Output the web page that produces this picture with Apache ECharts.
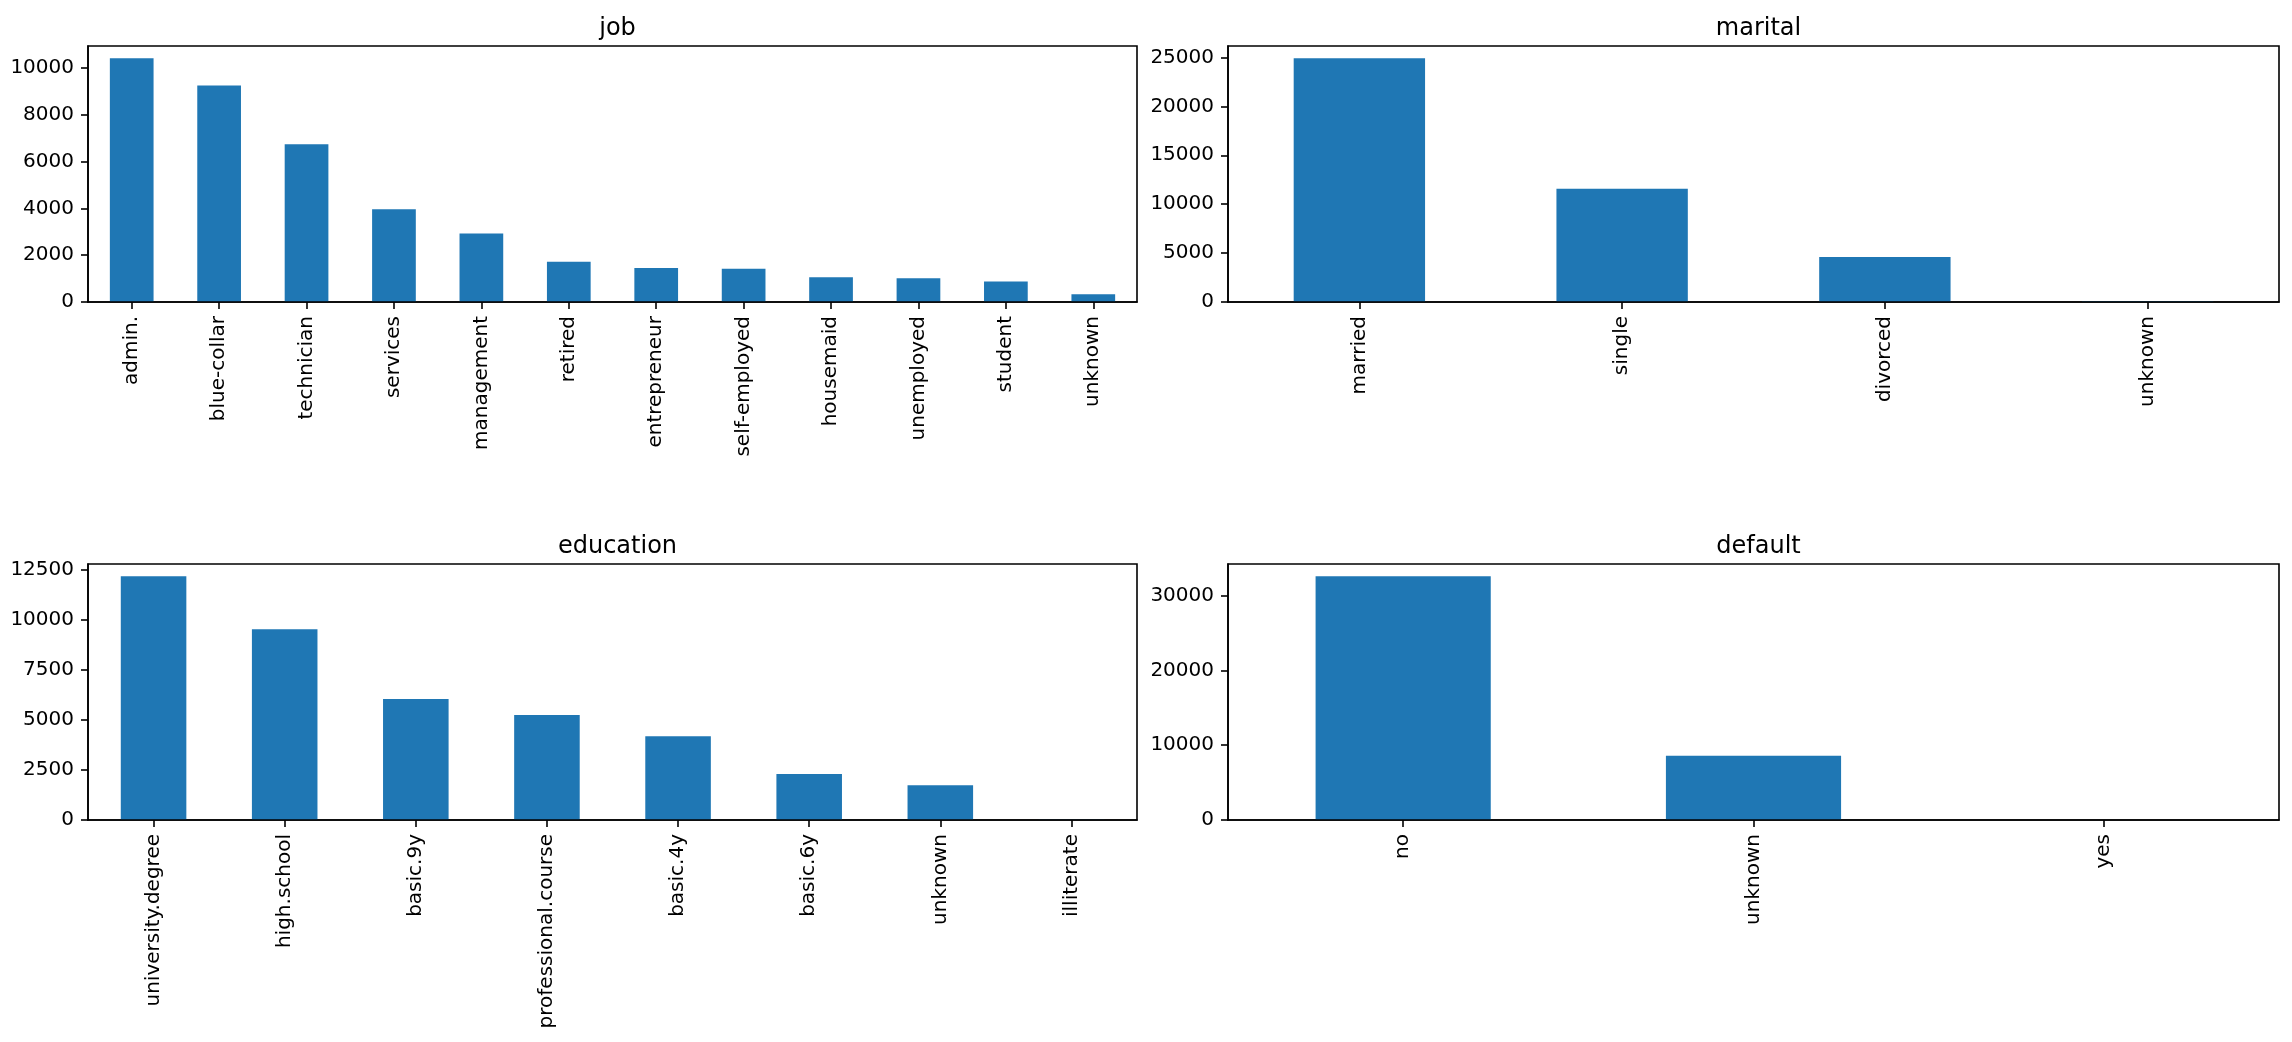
<!DOCTYPE html>
<html>
<head>
<meta charset="utf-8">
<title>bank categorical counts</title>
<script src="https://cdn.jsdelivr.net/npm/echarts@6/dist/echarts.min.js"></script>
<style>
  html, body { margin: 0; padding: 0; background: #fff; }
  #chart { width: 2292px; height: 1042px; }
</style>
</head>
<body>
<div id="chart"></div>
<script>
// categories and counts, one panel each
const jobCats = ['admin.', 'blue-collar', 'technician', 'services', 'management', 'retired',
  'entrepreneur', 'self-employed', 'housemaid', 'unemployed', 'student', 'unknown'];
const jobCounts = [10422, 9254, 6743, 3969, 2924, 1720, 1456, 1421, 1060, 1014, 875, 330];

const maritalCats = ['married', 'single', 'divorced', 'unknown'];
const maritalCounts = [24928, 11568, 4612, 80];

const educationCats = ['university.degree', 'high.school', 'basic.9y', 'professional.course',
  'basic.4y', 'basic.6y', 'unknown', 'illiterate'];
const educationCounts = [12168, 9515, 6045, 5243, 4176, 2292, 1731, 18];

const defaultCats = ['no', 'unknown', 'yes'];
const defaultCounts = [32588, 8597, 3];

// y tick labels
const jobTicks = [0, 2000, 4000, 6000, 8000, 10000];
const maritalTicks = [0, 5000, 10000, 15000, 20000, 25000];
const educationTicks = [0, 2500, 5000, 7500, 10000, 12500];
const defaultTicks = [0, 10000, 20000, 30000];

const FONT = 'DejaVu Sans';
const BAR = '#1f77b4';

const panels = [
  { title: 'job', cats: jobCats, vals: jobCounts, ticks: jobTicks,
    grid: { left: 88, right: 1155, top: 46, height: 256 } },
  { title: 'marital', cats: maritalCats, vals: maritalCounts, ticks: maritalTicks,
    grid: { left: 1228, right: 13, top: 46, height: 256 } },
  { title: 'education', cats: educationCats, vals: educationCounts, ticks: educationTicks,
    grid: { left: 88, right: 1155, top: 564, height: 256 } },
  { title: 'default', cats: defaultCats, vals: defaultCounts, ticks: defaultTicks,
    grid: { left: 1228, right: 13, top: 564, height: 256 } },
];

const myChart = echarts.init(document.getElementById('chart'), null, { renderer: 'canvas' });

function getOption() {
  const option = {
    backgroundColor: '#fff',
    animation: false,
    title: [],
    grid: [],
    xAxis: [],
    yAxis: [],
    series: [],
  };
  panels.forEach((p, i) => {
    const g = p.grid;
    const plotW = 2292 - g.left - g.right;
    option.title.push({
      text: p.title,
      left: g.left + plotW / 2,
      top: g.top - 34,
      textAlign: 'center',
      textStyle: { fontFamily: FONT, fontSize: 24, fontWeight: 'normal', color: '#000' },
    });
    option.grid.push({
      left: g.left,
      right: g.right,
      top: g.top,
      height: g.height,
      show: true,
      borderColor: '#000',
      borderWidth: 1.6,
      containLabel: false,
    });
    option.xAxis.push({
      type: 'category',
      gridIndex: i,
      data: p.cats,
      boundaryGap: true,
      z: 5,
      axisLine: { show: true, lineStyle: { color: '#000', width: 1.6 } },
      axisTick: { show: true, alignWithLabel: true, length: 7, lineStyle: { color: '#000', width: 1.6 } },
      axisLabel: {
        rotate: 90,
        interval: 0,
        margin: 14,
        fontFamily: FONT,
        fontSize: 20,
        color: '#000',
      },
      splitLine: { show: false },
    });
    // matplotlib pads the top by 5% of the tallest bar
    const top = Math.max(...p.vals) * 1.05;
    option.yAxis.push({
      type: 'value',
      gridIndex: i,
      min: 0,
      max: top,
      z: 5,
      axisLine: { show: true, lineStyle: { color: '#000', width: 1.6 } },
      axisTick: { show: true, length: 7, customValues: p.ticks, lineStyle: { color: '#000', width: 1.6 } },
      axisLabel: {
        customValues: p.ticks,
        formatter: (v) => String(v),
        margin: 14,
        fontFamily: FONT,
        fontSize: 20,
        color: '#000',
      },
      splitLine: { show: false },
    });
    option.series.push({
      name: p.title,
      type: 'bar',
      xAxisIndex: i,
      yAxisIndex: i,
      data: p.vals,
      barWidth: '50%',
      itemStyle: { color: BAR },
    });
  });
  return option;
}

myChart.setOption(getOption());
</script>
</body>
</html>
